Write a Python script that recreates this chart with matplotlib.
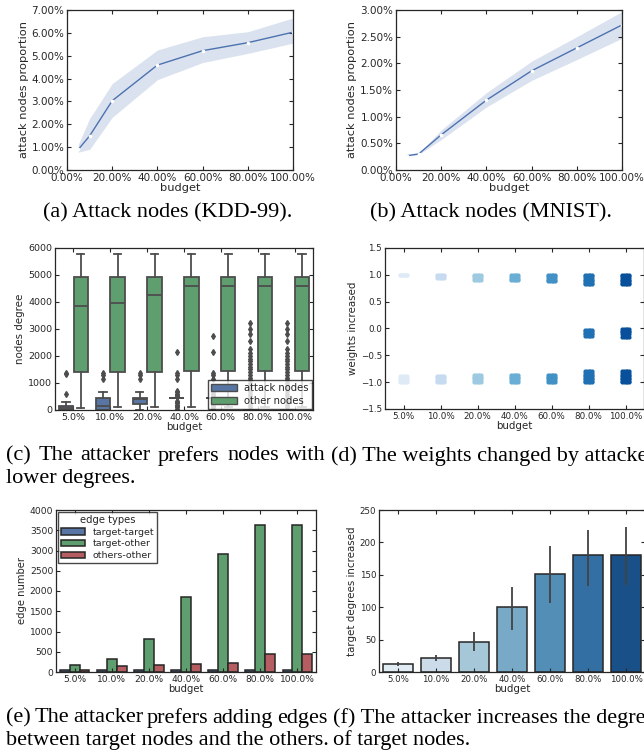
import colorsys
import numpy as np
import matplotlib.pyplot as plt
from matplotlib.colors import to_rgb
from matplotlib.patches import Patch

W, H = 644, 753

plt.rcParams['font.family'] = ['DejaVu Sans']
plt.rcParams['text.color'] = '0.15'
plt.rcParams['axes.labelcolor'] = '0.15'

budget = [0.05, 0.10, 0.20, 0.40, 0.60, 0.80, 1.00]
budget_labels = ['5.0%', '10.0%', '20.0%', '40.0%', '60.0%', '80.0%', '100.0%']

# attack node proportion (percent), mean and band
kdd_mean = [0.90, 1.49, 3.03, 4.59, 5.22, 5.57, 6.03]
kdd_lo = [0.78, 0.90, 2.30, 3.95, 4.70, 5.10, 5.55]
kdd_hi = [1.12, 2.25, 3.78, 5.25, 5.83, 6.05, 6.65]
mnist_mean = [0.27, 0.30, 0.66, 1.31, 1.86, 2.29, 2.72]
mnist_lo = [0.26, 0.29, 0.57, 1.18, 1.68, 2.07, 2.47]
mnist_hi = [0.28, 0.31, 0.75, 1.45, 2.04, 2.50, 2.97]

# node degree box statistics: (whislo, q1, med, q3, whishi)
attack_box = [(0, 10, 60, 160, 300), (0, 0, 150, 430, 680), (0, 225, 390, 430, 680),
              (430, 430, 430, 430, 430), (430, 430, 430, 430, 430),
              (0, 0, 0, 0, 0), (0, 0, 0, 0, 0)]
attack_fliers = [
    [580, 1320, 1360],
    [1150, 1300, 1370],
    [1150, 1300, 1370],
    [0, 50, 100, 150, 200, 250, 300, 350, 500, 550, 600, 650, 700, 1150, 1300, 1370, 2150],
    [0, 50, 100, 150, 200, 250, 300, 350, 500, 550, 600, 650, 700, 1150, 1300, 1370, 2150, 2750],
    [100, 200, 300, 400, 500, 600, 700, 800, 900, 1000, 1100, 1200, 1300, 1400, 1500,
     1600, 1700, 1800, 1900, 2000, 2100, 2250, 2550, 2800, 3000, 3220],
    [100, 200, 300, 400, 500, 600, 700, 800, 900, 1000, 1100, 1200, 1300, 1400, 1500,
     1600, 1700, 1800, 1900, 2000, 2100, 2250, 2550, 2800, 3000, 3220],
]
other_box = [(60, 1400, 3850, 4920, 5780), (100, 1400, 3950, 4930, 5780),
             (100, 1410, 4250, 4930, 5780), (100, 1430, 4600, 4930, 5780),
             (100, 1440, 4600, 4940, 5780), (100, 1450, 4600, 4940, 5780),
             (100, 1450, 4600, 4940, 5780)]

# weight changes seen per budget
weights = [
    [1.00, 0.99, -0.89, -0.92, -0.95, -0.98, -1.00],
    [1.00, 0.97, 0.94, -0.88, -0.91, -0.94, -0.97, -1.00],
    [1.00, 0.97, 0.94, 0.91, -0.87, -0.90, -0.93, -0.96, -1.00],
    [0.99, 0.96, 0.93, 0.90, -0.87, -0.90, -0.93, -0.96, -1.00],
    [1.00, 0.97, 0.94, 0.91, 0.88, -0.87, -0.90, -0.93, -0.96, -1.00],
    [1.00, 0.97, 0.94, 0.91, 0.88, 0.85, 0.82, -0.02, -0.05, -0.08, -0.11, -0.14,
     -0.80, -0.83, -0.86, -0.89, -0.92, -0.95, -0.98, -1.00],
    [1.00, 0.97, 0.94, 0.91, 0.88, 0.85, 0.82, -0.01, -0.04, -0.07, -0.10, -0.16,
     -0.80, -0.83, -0.86, -0.89, -0.92, -0.95, -0.98, -1.00],
]
jitter = [-0.1, -0.05, 0.0, 0.05, 0.1]

edge_types = ['target-target', 'target-other', 'others-other']
target_target = [45, 57, 57, 57, 57, 57, 57]
target_other = [164, 312, 821, 1864, 2907, 3622, 3622]
others_other = [49, 148, 180, 189, 213, 451, 451]

deg_mean = [13, 22, 47, 100, 151, 180, 180]
deg_lo = [10, 17, 32, 65, 107, 133, 134]
deg_hi = [16, 27, 61, 131, 194, 219, 224]

blue, green, red = '#4C72B0', '#55A868', '#C44E52'


def desat(c, p=0.75):
    h, l, s = colorsys.rgb_to_hls(*to_rgb(c))
    return colorsys.hls_to_rgb(h, l, s * p)


def add_ax(fig, l, t, r, b):
    return fig.add_axes([l / W, 1 - b / H, (r - l) / W, (b - t) / H])


def style(ax, fs):
    ax.tick_params(direction='in', top=True, right=True, length=3, width=0.8,
                   colors='0.15', labelsize=fs, pad=2)
    for sp in ax.spines.values():
        sp.set_color('0.15')
        sp.set_linewidth(0.9)


def justify(fig, words, x0, x1, y, **kw):
    r = fig.canvas.get_renderer()
    ts = [fig.text(0, 1 - y / H, w, va='center', **kw) for w in words]
    ws = [t.get_window_extent(r).width for t in ts]
    gap = (x1 - x0 - sum(ws)) / (len(words) - 1)
    x = x0
    for t, w in zip(ts, ws):
        t.set_x(x / W)
        x += w + gap


fig = plt.figure(figsize=(W / 100, H / 100), dpi=100)
cats = np.arange(len(budget_labels))

# (a) / (b) proportion of attack nodes
for (l, r), mean, lo, hi, top, step in [((67, 293), kdd_mean, kdd_lo, kdd_hi, 7, 1.0),
                                         ((396, 622), mnist_mean, mnist_lo, mnist_hi, 3, 0.5)]:
    ax = add_ax(fig, l, 10, r, 170)
    ax.fill_between(budget, lo, hi, color=blue, alpha=0.2, lw=0)
    ax.plot(budget, mean, color=blue, lw=1)
    ax.plot(budget, mean, 'o', ms=1.6, mfc='white', mec='white')
    ax.set_xlim(0, 1)
    ax.set_ylim(0, top)
    xt = np.arange(0, 1.01, 0.2)
    ax.set_xticks(xt, [f'{v * 100:.2f}%' for v in xt])
    yt = np.arange(0, top + 0.001, step)
    ax.set_yticks(yt, [f'{v:.2f}%' for v in yt])
    style(ax, 7.5)
    ax.set_xlabel('budget', fontsize=8.2, labelpad=0)
    ax.set_ylabel('attack nodes proportion', fontsize=8.2, labelpad=2)

# (c) node degree boxplots
ax = add_ax(fig, 55, 248, 313, 410)
edge_gray = '0.3'
for boxes, fliers, off, col in [(attack_box, attack_fliers, -0.2, desat(blue)),
                                (other_box, [[]] * 7, 0.2, desat(green))]:
    stats = [dict(whislo=b[0], q1=b[1], med=b[2], q3=b[3], whishi=b[4], fliers=f)
             for b, f in zip(boxes, fliers)]
    ax.bxp(stats, positions=cats + off, widths=0.39, patch_artist=True,
           boxprops=dict(facecolor=col, edgecolor=edge_gray, lw=1.3),
           medianprops=dict(color=edge_gray, lw=1.3),
           whiskerprops=dict(color=edge_gray, lw=1.3),
           capprops=dict(color=edge_gray, lw=1.3),
           flierprops=dict(marker='d', ms=3, mfc=edge_gray, mec=edge_gray, lw=0),
           manage_ticks=False)
ax.set_xlim(-0.5, 6.5)
ax.set_ylim(0, 6000)
ax.set_xticks(cats, budget_labels)
ax.set_yticks(range(0, 6001, 1000))
style(ax, 6.8)
ax.set_xlabel('budget', fontsize=7.4, labelpad=0)
ax.set_ylabel('nodes degree', fontsize=7.4, labelpad=2)
ax.legend(handles=[Patch(facecolor=desat(blue), edgecolor=edge_gray, label='attack nodes'),
                   Patch(facecolor=desat(green), edgecolor=edge_gray, label='other nodes')],
          loc='lower right', fontsize=7.2, fancybox=False, edgecolor='0.1',
          borderaxespad=0.1, handlelength=2.6, labelspacing=0.3, borderpad=0.3)

# (d) changed weights, strip plot
ax = add_ax(fig, 385, 248, 644, 409)
strip_cols = plt.cm.Blues(np.linspace(0, 1, 9)[1:-1])
for i, ws in enumerate(weights):
    xs = [i + j for w in ws for j in jitter]
    ys = [w for w in ws for j in jitter]
    ax.scatter(xs, ys, s=9, color=strip_cols[i], lw=0)
ax.set_xlim(-0.5, 6.5)
ax.set_ylim(-1.5, 1.5)
ax.set_xticks(cats, budget_labels)
ax.set_yticks(np.arange(-1.5, 1.51, 0.5))
style(ax, 6.3)
ax.set_xlabel('budget', fontsize=7.4, labelpad=0)
ax.set_ylabel('weights increased', fontsize=7.4, labelpad=2)

# (e) added edges by type
ax = add_ax(fig, 56, 510, 316, 672)
bw = 0.8 / 3
for k, (vals, col) in enumerate(zip([target_target, target_other, others_other],
                                    [blue, green, red])):
    ax.bar(cats + (k - 1) * bw, vals, width=bw, color=desat(col), edgecolor='0.15',
           lw=1.1, label=edge_types[k])
ax.set_xlim(-0.5, 6.5)
ax.set_ylim(0, 4000)
ax.set_xticks(cats, budget_labels)
ax.set_yticks(range(0, 4001, 500))
style(ax, 6.6)
ax.set_xlabel('budget', fontsize=7.2, labelpad=0)
ax.set_ylabel('edge number', fontsize=7.2, labelpad=2)
leg = ax.legend(title='edge types', loc='upper left', fontsize=6.8, title_fontsize=7.2,
                fancybox=False, edgecolor='0.1', borderaxespad=0.2, handlelength=2.6,
                labelspacing=0.3, borderpad=0.3)

# (f) target degree increase
ax = add_ax(fig, 379, 510, 645, 672)
bar_cols = [desat(c[:3]) for c in strip_cols]
ax.bar(cats, deg_mean, width=0.8, color=bar_cols, edgecolor='0.15', lw=1.1)
ax.vlines(cats, deg_lo, deg_hi, color='0.26', lw=1.3)
ax.set_xlim(-0.5, 6.5)
ax.set_ylim(0, 250)
ax.set_xticks(cats, budget_labels)
ax.set_yticks(range(0, 251, 50))
style(ax, 6.2)
ax.set_xlabel('budget', fontsize=7.4, labelpad=0)
ax.set_ylabel('target degrees increased', fontsize=7.4, labelpad=2)

# captions
cap = dict(family='Liberation Serif', fontsize=16, color='black')
fig.text(168 / W, 1 - 213 / H, '(a) Attack nodes (KDD-99).', ha='center', va='center', **cap)
fig.text(491 / W, 1 - 213 / H, '(b) Attack nodes (MNIST).', ha='center', va='center', **cap)
justify(fig, '(c) The attacker prefers nodes with'.split(), 6, 326, 456, **cap)
fig.text(6 / W, 1 - 478 / H, 'lower degrees.', va='center', **cap)
fig.text(331 / W, 1 - 456 / H, '(d) The weights changed by attacker.', va='center', **cap)
justify(fig, '(e) The attacker prefers adding edges'.split(), 6, 327, 718, **cap)
fig.text(6 / W, 1 - 740 / H, 'between target nodes and the others.', va='center', **cap)
fig.text(333 / W, 1 - 718 / H, '(f) The attacker increases the degrees', va='center', **cap)
fig.text(333 / W, 1 - 740 / H, 'of target nodes.', va='center', **cap)

fig.savefig('out.png', dpi=100)
